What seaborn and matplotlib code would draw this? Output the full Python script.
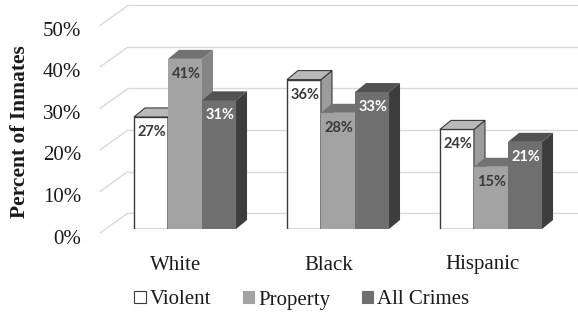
import matplotlib
matplotlib.use("Agg")
import matplotlib.pyplot as plt
from matplotlib.patches import Polygon, Patch
import pandas as pd
import seaborn as sns

# Share of inmates by race and offense type (percent)
groups = ["White", "Black", "Hispanic"]
crime_types = ["Violent", "Property", "All Crimes"]
violent = [27, 36, 24]
property_crimes = [41, 28, 15]
all_crimes = [31, 33, 21]
y_ticks = [0, 10, 20, 30, 40, 50]
y_tick_labels = ["0%", "10%", "20%", "30%", "40%", "50%"]

front_colors = {"Violent": "#ffffff", "Property": "#a3a3a3", "All Crimes": "#6f6f6f"}
top_colors = {"Violent": "#b9b9b9", "Property": "#727272", "All Crimes": "#525252"}
side_colors = {"Violent": "#9c9c9c", "Property": "#858585", "All Crimes": "#3d3d3d"}
label_colors = {"Violent": "#3a3a3a", "Property": "#3a3a3a", "All Crimes": "#ffffff"}

df = pd.DataFrame({
    "group": groups * 3,
    "type": [t for t in crime_types for _ in groups],
    "pct": violent + property_crimes + all_crimes,
})

sns.set_theme(style="white")
plt.rcParams["font.family"] = ["Liberation Serif", "DejaVu Serif"]
text_color = "#1a1a1a"

W, H = 578, 321
fig = plt.figure(figsize=(W / 100, H / 100), dpi=100)

# Plot plane of the bar fronts (pixel layout)
left_px, right_px = 106, 560
base_px = 229
px_per_unit_y = 4.15
px_per_group = 153
first_center_px = 185
xlim0 = (left_px - first_center_px) / px_per_group
xlim1 = (right_px - first_center_px) / px_per_group
ax = fig.add_axes([left_px / W, (H - base_px) / H,
                   (right_px - left_px) / W, 50 * px_per_unit_y / H])
ax.set_xlim(xlim0, xlim1)
ax.set_ylim(0, 50)
ax.axis("off")


def px_x(px):
    return xlim0 + (px - left_px) / px_per_group


def dx_units(px):
    return px / px_per_group


def dy_units(px):
    return px / px_per_unit_y


# Back wall with gridlines and receding side lines
wall_dx_back, wall_dy_back = 128, -16
front_x, front_dy = 100, 4
grid_color = "#d9d9d9"
for v, lab in zip(y_ticks, y_tick_labels):
    yb = v - dy_units(wall_dy_back)
    yf = v - dy_units(front_dy)
    ax.plot([px_x(wall_dx_back), px_x(W)], [yb, yb], color=grid_color, lw=1.0,
            clip_on=False, zorder=0, solid_capstyle="butt")
    ax.plot([px_x(front_x), px_x(wall_dx_back)], [yf, yb], color=grid_color, lw=1.0,
            clip_on=False, zorder=0)
    ax.text(px_x(front_x) - dx_units(19), yf - dy_units(6), lab, ha="right",
            va="center", fontsize=15, color=text_color)

# Front faces of the bars
sns.barplot(data=df, x="group", y="pct", hue="type", order=groups,
            hue_order=crime_types, palette=front_colors, width=0.667,
            saturation=1, legend=False, ax=ax, zorder=2, linewidth=0)
ax.set_xlim(xlim0, xlim1)
ax.set_ylim(0, 50)

depth_dx, depth_dy = dx_units(11), dy_units(9)
bars = list(ax.patches)
bar_info = []
for i, t in enumerate(crime_types):
    for j, g in enumerate(groups):
        bar_info.append((bars[i * len(groups) + j], t, j, i))

# draw group by group, left to right, so nearer faces overlap correctly
bar_info.sort(key=lambda b: (b[2], b[3]))
z = 2
for patch, t, j, i in bar_info:
    x0 = patch.get_x()
    w = patch.get_width()
    h = patch.get_height()
    x1 = x0 + w
    edge = "#3a3a3a" if t == "Violent" else "none"
    lw = 1.0 if t == "Violent" else 0
    patch.set_zorder(z)
    patch.set_edgecolor(edge)
    patch.set_linewidth(lw)
    top = Polygon([(x0, h), (x1, h), (x1 + depth_dx, h + depth_dy), (x0 + depth_dx, h + depth_dy)],
                  closed=True, facecolor=top_colors[t], edgecolor=edge, linewidth=lw * 0.8,
                  zorder=z)
    side = Polygon([(x1, 0), (x1 + depth_dx, depth_dy), (x1 + depth_dx, h + depth_dy), (x1, h)],
                   closed=True, facecolor=side_colors[t], edgecolor=edge, linewidth=lw * 0.8,
                   zorder=z)
    ax.add_patch(side)
    ax.add_patch(top)
    ax.text(x0 + w / 2 + dx_units(1), h - dy_units(15), f"{h:.0f}%", ha="center",
            va="center", fontsize=10.5, fontweight="bold", family=["Lato", "DejaVu Sans"],
            color=label_colors[t], zorder=z + 0.5)
    z += 1

# Category labels under each group
for j, g in enumerate(groups):
    ax.text(j - dx_units(9), -dy_units(36), g, ha="center", va="center",
            fontsize=15, color=text_color, clip_on=False)

fig.text(20 / W, 1 - 132 / H, "Percent of Inmates", rotation=90, ha="center",
         va="center", fontsize=15.5, fontweight="bold", color=text_color)

handles = [Patch(facecolor=front_colors[t], edgecolor="#3a3a3a" if t == "Violent" else front_colors[t],
                 linewidth=0.8) for t in crime_types]
fig.legend(handles, crime_types, loc="center", bbox_to_anchor=(302 / W, 1 - 300 / H),
           ncol=3, frameon=False, fontsize=15, handlelength=0.55, handleheight=0.55,
           handletextpad=0.2, columnspacing=1.5, borderaxespad=0, labelcolor=text_color)

fig.savefig("out.png", dpi=100, facecolor="white")
